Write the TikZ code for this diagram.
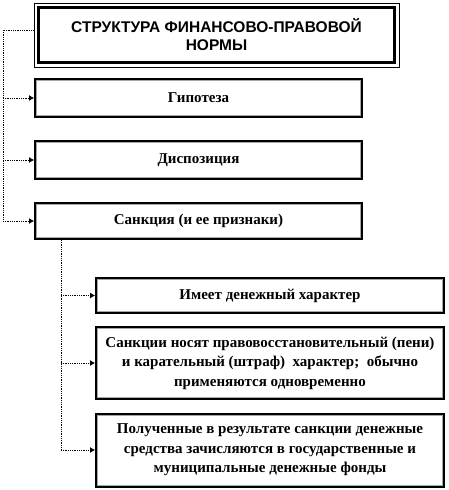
\documentclass[tikz,border=0pt]{standalone}
\usepackage{fontspec}
\setmainfont{Liberation Serif}
\newfontfamily\arialfont{Liberation Sans}
\newfontfamily\timesfont{Liberation Serif}
\usetikzlibrary{arrows.meta,calc}
\tikzset{
  box/.style={draw=black, line width=2pt, fill=white, align=center, inner sep=0pt,
    font=\timesfont\bfseries\fontsize{15}{19.5}\selectfont,
    path picture={\draw[gray!70, line width=1pt]
      ([shift={(1.5pt,-1.5pt)}]path picture bounding box.north west) rectangle
      ([shift={(-1.5pt,1.5pt)}]path picture bounding box.south east);}},
  link/.style={densely dotted, line width=0.8pt, black},
  arr/.style={link, -{Latex[length=5pt,width=6pt]}}
}
\begin{document}
\begin{tikzpicture}[x=1pt,y=-1pt]
\useasboundingbox (0,0) rectangle (448,490);
% title
\node[draw, line width=0.8pt, minimum width=365pt, minimum height=64pt, inner sep=0pt,
  align=center, font=\arialfont\bfseries\fontsize{15.5}{18}\selectfont] (title) at (216.5,35) {СТРУКТУРА ФИНАНСОВО-ПРАВОВОЙ\\НОРМЫ};
\draw[line width=3pt] ($(title.north west)+(4.5,4.5)$) rectangle ($(title.south east)+(-4.5,-4.5)$);
% level 1
\node[box, minimum width=327pt, minimum height=38pt] (hyp) at (198.5,98) {Гипотеза};
\node[box, minimum width=327pt, minimum height=38pt] (disp) at (198.5,160) {Диспозиция};
\node[box, minimum width=327pt, minimum height=36pt] (san) at (198.5,221) {Санкция (и ее признаки)};
% level 2
\node[box, minimum width=348pt, minimum height=35pt] (s1) at (270,295.5) {Имеет денежный характер};
\node[box, minimum width=348pt, minimum height=72pt] (s2) at (270,363) {Санкции носят правовосстановительный (пени)\\и карательный (штраф)\ \ характер;\ \ обычно\\применяются одновременно};
\node[box, minimum width=348pt, minimum height=73pt] (s3) at (270,450) {Полученные в результате санкции денежные\\средства зачисляются в государственные и\\муниципальные денежные фонды};
% trunk 1
\coordinate (t0) at (3,30);
\draw[link] ([yshift=5pt]title.west) -- (t0) -- (t0 |- san.west);
\draw[arr] (t0 |- hyp.west) -- (hyp.west);
\draw[arr] (t0 |- disp.west) -- (disp.west);
\draw[arr] (t0 |- san.west) -- (san.west);
% trunk 2
\coordinate (u0) at (61,0);
\draw[link] (u0 |- san.south) -- (u0 |- s3.west);
\draw[arr] (u0 |- s1.west) -- (s1.west);
\draw[arr] (u0 |- s2.west) -- (s2.west);
\draw[arr] (u0 |- s3.west) -- (s3.west);
\end{tikzpicture}
\end{document}
